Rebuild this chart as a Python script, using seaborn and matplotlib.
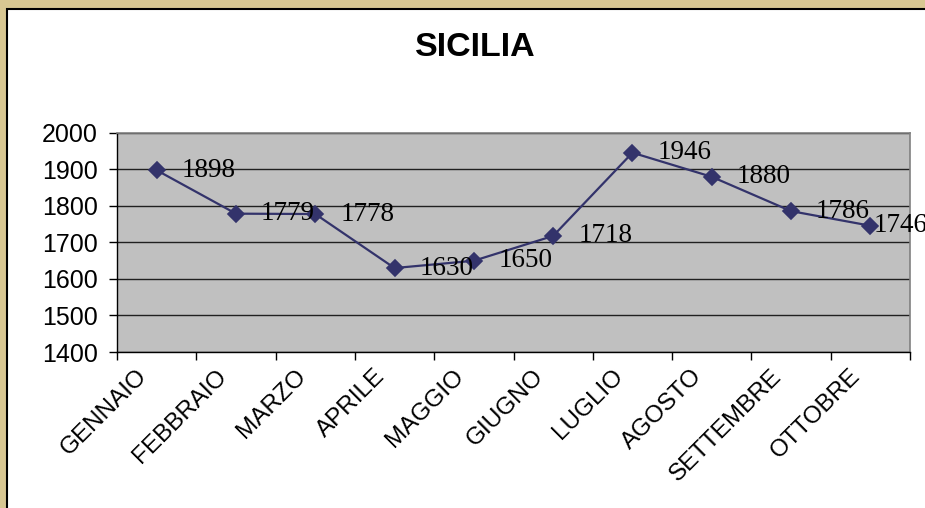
import matplotlib
matplotlib.use('Agg')
import matplotlib.pyplot as plt
import matplotlib.patches as patches
import matplotlib.transforms as mtransforms
import seaborn as sns
import numpy as np

# Data
mesi = ['GENNAIO', 'FEBBRAIO', 'MARZO', 'APRILE', 'MAGGIO',
        'GIUGNO', 'LUGLIO', 'AGOSTO', 'SETTEMBRE', 'OTTOBRE']
valori = [1898, 1779, 1778, 1630, 1650, 1718, 1946, 1880, 1786, 1746]
y_ticks = [1400, 1500, 1600, 1700, 1800, 1900, 2000]

sns.set_style('white')
plt.rcParams['font.family'] = ['Liberation Sans', 'DejaVu Sans']
plt.rcParams['text.color'] = 'black'
plt.rcParams['xtick.color'] = 'black'
plt.rcParams['ytick.color'] = 'black'
plt.rcParams['xtick.labelcolor'] = 'black'
plt.rcParams['ytick.labelcolor'] = 'black'

fig = plt.figure(figsize=(9.25, 5.08), dpi=100)
fig.patch.set_facecolor('#d8c792')

# white chart area with black border (extends past right/bottom edges)
fig.patches.append(patches.Rectangle((7 / 925, -0.1), 1.1, 1 - 9 / 508 + 0.1,
                                     transform=fig.transFigure, facecolor='white',
                                     edgecolor='black', linewidth=1.5, zorder=-10))

ax = fig.add_axes([117 / 925, 1 - 352 / 508, (910 - 117) / 925, (352 - 133) / 508])
ax.set_facecolor('#c0c0c0')

sns.pointplot(x=mesi, y=valori, ax=ax, color='#33336b', markers='D',
              linestyles='-', markersize=8, linewidth=1.6)

ax.set_xlim(-0.5, len(mesi) - 0.5)
ax.set_ylim(1400, 2000)
ax.set_yticks(y_ticks)
ax.yaxis.grid(True, color='#202020', linewidth=1.0)
ax.set_axisbelow(True)

for side in ['top', 'right']:
    ax.spines[side].set_color('#808080')
    ax.spines[side].set_linewidth(1.2)
for side in ['left', 'bottom']:
    ax.spines[side].set_color('black')
    ax.spines[side].set_linewidth(1.0)

ax.tick_params(axis='y', which='major', direction='out', length=6, width=1,
               labelsize=18, left=True, pad=8)
ax.set_xticks(np.arange(-0.5, len(mesi), 1.0), minor=True)
ax.tick_params(axis='x', which='minor', direction='out', length=6, width=1, bottom=True)
ax.tick_params(axis='x', which='major', length=0, labelsize=17.5, pad=15)
ax.set_xticklabels(mesi, rotation=45, ha='right', rotation_mode='anchor', va='center')
shift = mtransforms.ScaledTranslation(-0.13, 0, fig.dpi_scale_trans)
for lab in ax.get_xticklabels():
    lab.set_transform(lab.get_transform() + shift)

# data labels; the last one is pushed in against its marker, as in the original
for i, v in enumerate(valori):
    dx = 25 if i < len(valori) - 1 else 3
    ax.annotate(str(v), (i, v), xytext=(dx, 0), textcoords='offset pixels',
                ha='left', va='center', fontsize=19.5, family='Liberation Serif',
                annotation_clip=False)

ax.set_xlabel('')
ax.set_ylabel('')
fig.text(475 / 925, 1 - 48 / 508, 'SICILIA', ha='center', va='center',
         fontsize=24.5, fontweight='bold')

fig.savefig('out.png', dpi=100, facecolor=fig.get_facecolor())
